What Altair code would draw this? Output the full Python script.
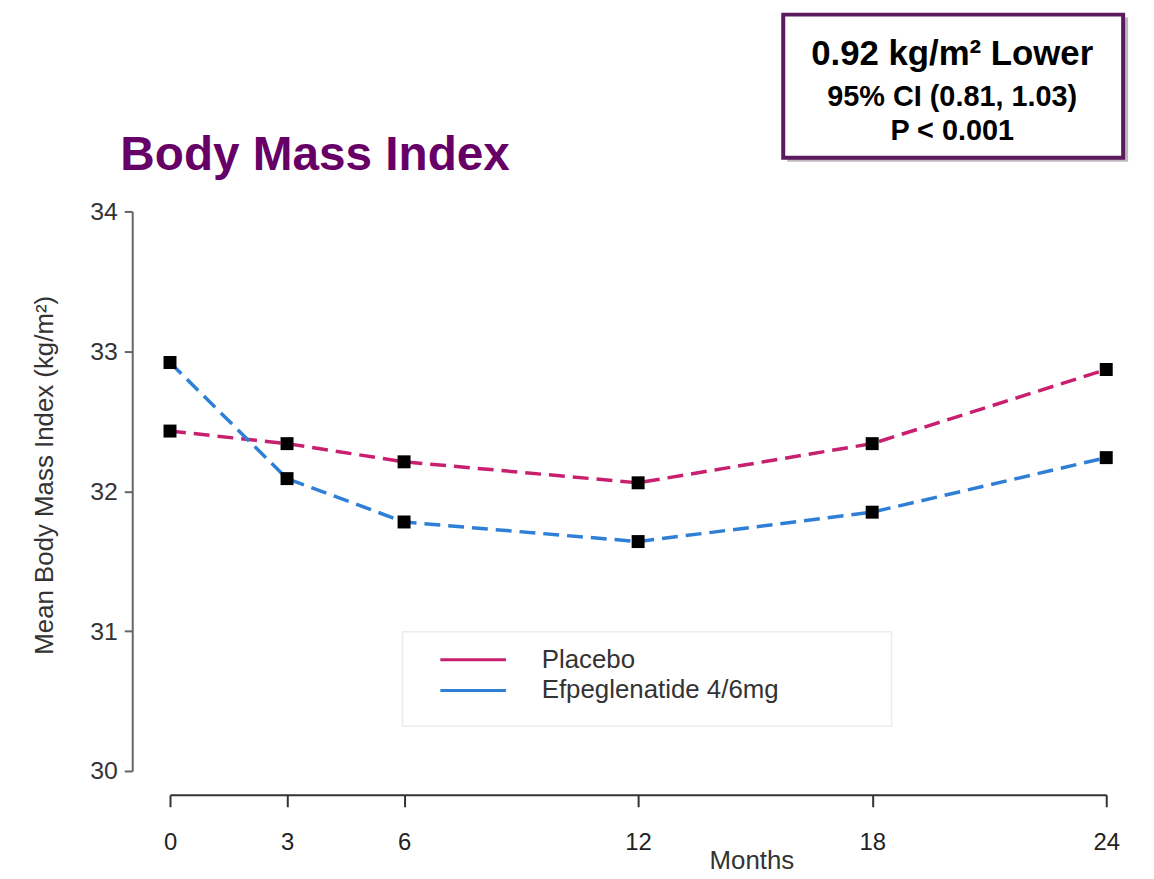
import altair as alt
import pandas as pd

FONT = "Liberation Sans"

months = [0, 3, 6, 12, 18, 24]
placebo = [32.43, 32.34, 32.21, 32.06, 32.34, 32.87]
efpeglenatide = [32.92, 32.09, 31.78, 31.64, 31.85, 32.24]
series = ["Placebo", "Efpeglenatide 4/6mg"]
colors = ["#c8206f", "#2f7fd6"]
y_ticks = [30, 31, 32, 33, 34]

title_text = "Body Mass Index"
box_lines = ["0.92 kg/m\u00b2 Lower", "95% CI (0.81, 1.03)", "P < 0.001"]

df = pd.DataFrame({
    "Months": months * 2,
    "BMI": placebo + efpeglenatide,
    "Group": [series[0]] * len(months) + [series[1]] * len(months),
})

W, H = 942, 563

x_enc = alt.X(
    "Months:Q",
    scale=alt.Scale(domain=[0, 24], nice=False, zero=False),
    axis=alt.Axis(
        values=months, offset=24, title="Months", titleX=585, titleY=74,
        titleBaseline="alphabetic", titleAlign="center", titleFontSize=26,
        titleFontWeight="normal", titleColor="#333333", titleFont=FONT,
        labelFontSize=24, labelColor="#222222", labelFont=FONT, labelPadding=24,
        tickSize=12, tickWidth=2, tickColor="#333333", domainColor="#333333",
        domainWidth=2, grid=False, labelFlush=False, format="d",
    ),
)
y_enc = alt.Y(
    "BMI:Q",
    scale=alt.Scale(domain=[30, 34], nice=False, zero=False),
    axis=alt.Axis(
        values=y_ticks, offset=38, title="Mean Body Mass Index (kg/m\u00b2)",
        titleX=-88, titleY=265, titleAngle=-90, titleAlign="center",
        titleBaseline="middle", titleFontSize=26, titleFontWeight="normal",
        titleColor="#333333", titleFont=FONT, format="d",
        labelFontSize=25, labelColor="#333333", labelFont=FONT, labelPadding=7,
        tickSize=8, tickWidth=2, tickColor="#666666", domainColor="#666666",
        domainWidth=2, grid=False,
    ),
)

color_enc = alt.Color(
    "Group:N",
    scale=alt.Scale(domain=series, range=colors),
    legend=alt.Legend(
        title=None, orient="none", legendX=292, legendY=438,
        symbolType="M-3,0H3", symbolSize=484, symbolStrokeWidth=3,
        symbolFillColor="transparent",
        symbolDash=[1, 0], labelFontSize=26, labelColor="#333333",
        labelFont=FONT, labelOffset=56, rowPadding=5, padding=0,
        labelLimit=500,
    ),
)

lines = alt.Chart(df).mark_line(strokeDash=[16, 8], strokeWidth=3.5).encode(
    x=x_enc, y=y_enc, color=color_enc, detail="Group:N"
)
points = alt.Chart(df).mark_point(
    shape="square", filled=True, size=170, color="black", opacity=1
).encode(x="Months:Q", y="BMI:Q")

one = pd.DataFrame({"a": [0]})

legend_box = alt.Chart(one).mark_rect(fill="white", stroke="#ececec", strokeWidth=1.5).encode(
    x=alt.value(234), x2=alt.value(726), y=alt.value(423), y2=alt.value(518)
)

title = alt.Chart(one).mark_text(
    text=title_text, font=FONT, fontSize=48, fontWeight="bold", color="#660066",
    align="left", baseline="alphabetic",
).encode(x=alt.value(-50), y=alt.value(-42))

box_shadow = alt.Chart(one).mark_rect(fill="#8a7a8a", opacity=0.55).encode(
    x=alt.value(621), x2=alt.value(964), y=alt.value(-195), y2=alt.value(-50)
)
box = alt.Chart(one).mark_rect(fill="white", stroke="#5b1a5b", strokeWidth=4).encode(
    x=alt.value(617), x2=alt.value(959), y=alt.value(-198), y2=alt.value(-54)
)
box_t1 = alt.Chart(one).mark_text(
    text=box_lines[0], font=FONT, fontSize=35, fontWeight="bold", color="black",
    align="center", baseline="alphabetic",
).encode(x=alt.value(787), y=alt.value(-147))
box_t2 = alt.Chart(one).mark_text(
    text=box_lines[1], font=FONT, fontSize=29, fontWeight="bold", color="black",
    align="center", baseline="alphabetic",
).encode(x=alt.value(787), y=alt.value(-106))
box_t3 = alt.Chart(one).mark_text(
    text=box_lines[2], font=FONT, fontSize=29, fontWeight="bold", color="black",
    align="center", baseline="alphabetic",
).encode(x=alt.value(787), y=alt.value(-72))

chart = alt.layer(
    legend_box, lines, points, title, box_shadow, box, box_t1, box_t2, box_t3
).properties(
    width=W, height=H,
    autosize=alt.AutoSizeParams(type="none"),
    padding={"left": 163, "top": 202, "right": 40, "bottom": 105},
    background="white",
).configure_view(stroke=None)

chart.save("out.html", embed_options={"renderer": "svg", "actions": False})
